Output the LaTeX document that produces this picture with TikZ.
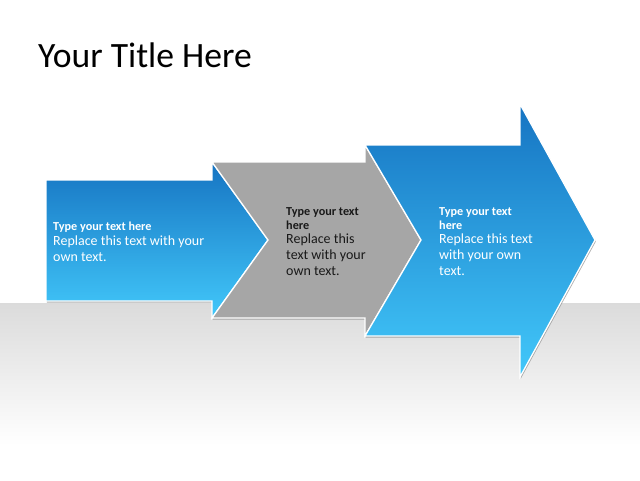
\documentclass[tikz,border=0pt]{standalone}
\usepackage{fontspec}
\setmainfont{Carlito}
\usetikzlibrary{shadows}
\definecolor{topblue}{RGB}{22,116,194}
\definecolor{lowblue}{RGB}{66,200,250}
\definecolor{chevgrey}{RGB}{166,166,166}
\definecolor{floorgrey}{RGB}{219,219,219}
\def\hd{\fontsize{12.2}{14}\selectfont\bfseries}
\def\bd{\fontsize{14}{15.6}\selectfont}
\def\chev{[draw=white,line width=1.3pt,line join=miter,
  drop shadow={shadow xshift=0.8pt,shadow yshift=-1.6pt,fill=black!45,opacity=0.7}]}

\begin{document}
\begin{tikzpicture}[x=1pt,y=-1pt,
    bluechev/.style={top color=topblue,bottom color=lowblue},
    greychev/.style={fill=chevgrey},
    lbl/.style={anchor=base west,inner sep=0pt,align=left,text=white,font=\bd},
    greylbl/.style={lbl,text=black!90}]
  \useasboundingbox (0,0) rectangle (640,480);
  \fill[white] (0,0) rectangle (640,480);
  \shade[top color=floorgrey,bottom color=white] (0,303) rectangle (640,445);

  % title
  \node[anchor=base west,inner sep=0pt,font=\fontsize{35.6}{40}\selectfont] (title) at (38,67) {Your Title Here};

  % the three chevrons
  \path\chev[bluechev] (46,180) -- (212,180) -- (212,162) -- (268,240) -- (212,318)
        -- (212,301) -- (46,301) -- cycle;
  \path\chev[greychev] (212,162) -- (365,162) -- (365,145) -- (421,240) -- (365,336)
        -- (365,318) -- (212,318) -- (268,240) -- cycle;
  \path\chev[bluechev] (365,145) -- (520,145) -- (520,104) -- (595,240) -- (520,377)
        -- (520,336) -- (365,336) -- (421,240) -- cycle;

  % texts
  \node[lbl] (textone) at (53,261) {{\hd Type your text here}\\[-1pt]
    Replace this text with your\\ own text.};
  \node[greylbl] (texttwo) at (286,275) {{\hd Type your text}\\[-2pt] {\hd here}\\[-1pt]
    Replace this\\ text with your\\ own text.};
  \node[lbl] (textthree) at (439,275) {{\hd Type your text}\\[-2pt] {\hd here}\\[-1pt]
    Replace this text\\ with your own\\ text.};
\end{tikzpicture}
\end{document}
